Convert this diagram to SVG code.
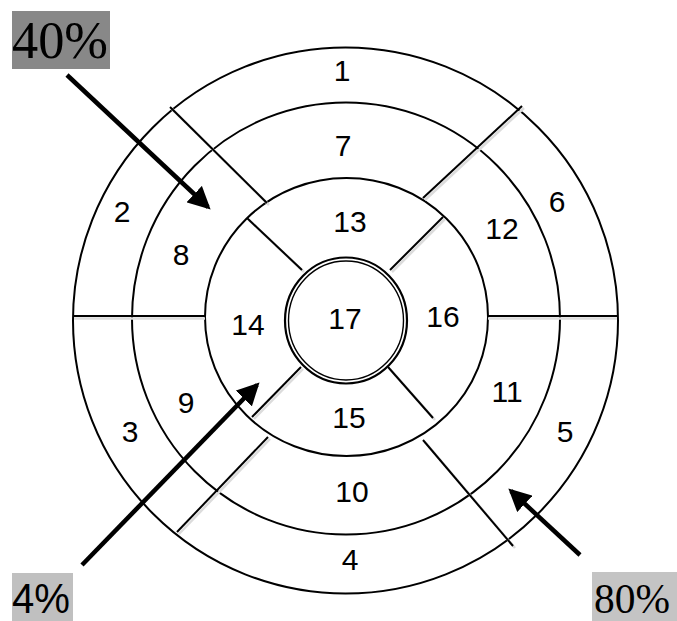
<svg xmlns="http://www.w3.org/2000/svg" width="677" height="621" viewBox="0 0 677 621">
<defs>
<style>
.ring{fill:none;stroke:#000;stroke-width:2}
.div{stroke:#000;stroke-width:2;stroke-linecap:butt}
.sh{stroke:#dcdcdc;stroke-width:2.5}
.num{font-family:"Liberation Sans",Arial,sans-serif;font-size:30px;text-anchor:middle;fill:#000}
.pct{font-family:"Liberation Serif","Times New Roman",serif;fill:#000}
.arr{stroke:#000;stroke-width:4.5;fill:none}
</style>
<marker id="ah" markerWidth="5" markerHeight="5" refX="4.2" refY="2.5" orient="auto" markerUnits="strokeWidth" viewBox="0 0 5 5">
<path d="M0,0 L5,2.5 L0,5 Z" fill="#000"/>
</marker>
</defs>
<rect width="677" height="621" fill="#fff"/>
<g id="rings">
<ellipse class="ring" cx="345.5" cy="320.5" rx="272.5" ry="273"/>
<ellipse class="ring" cx="346" cy="318.5" rx="214" ry="216"/>
<ellipse class="ring" cx="346.5" cy="317" rx="141.5" ry="139"/>
</g>
<g id="connectors">
<g class="sh">
<line x1="74" y1="318.5" x2="205" y2="318.5"/>
<line x1="488" y1="318.5" x2="617" y2="318.5"/>
<line x1="172" y1="109" x2="269" y2="205"/>
<line x1="249" y1="220" x2="304" y2="272"/>
<line x1="524" y1="108" x2="425" y2="200"/>
<line x1="445" y1="219" x2="392" y2="272"/>
<line x1="179" y1="534" x2="270" y2="439"/>
<line x1="254" y1="419" x2="303" y2="369"/>
<line x1="390" y1="369" x2="435" y2="420"/>
<line x1="425" y1="442" x2="515" y2="548"/>
</g>
<line class="div" x1="73" y1="316" x2="205" y2="316"/>
<line class="div" x1="488" y1="316" x2="618" y2="316"/>
<line class="div" x1="170" y1="107" x2="267" y2="203"/>
<line class="div" x1="247" y1="218" x2="302" y2="270"/>
<line class="div" x1="522" y1="106" x2="423" y2="198"/>
<line class="div" x1="443" y1="217" x2="390" y2="270"/>
<line class="div" x1="177" y1="532" x2="268" y2="437"/>
<line class="div" x1="252" y1="417" x2="301" y2="367"/>
<line class="div" x1="388" y1="367" x2="433" y2="418"/>
<line class="div" x1="423" y1="440" x2="513" y2="546"/>
</g>
<g id="seg17">
<ellipse cx="346" cy="320.5" rx="61" ry="63" fill="#fff" stroke="#000" stroke-width="2.2"/>
<ellipse cx="346" cy="320.5" rx="57.5" ry="59.5" fill="none" stroke="#000" stroke-width="1.4"/>
<text class="num" x="345" y="329">17</text>
</g>
<g id="labels">
<text class="num" x="342" y="81">1</text>
<text class="num" x="122" y="222">2</text>
<text class="num" x="130" y="442">3</text>
<text class="num" x="350" y="570">4</text>
<text class="num" x="565" y="442">5</text>
<text class="num" x="557" y="212">6</text>
<text class="num" x="343" y="156">7</text>
<text class="num" x="181" y="265">8</text>
<text class="num" x="186" y="413">9</text>
<text class="num" x="352" y="502">10</text>
<text class="num" x="507" y="402">11</text>
<text class="num" x="502" y="239">12</text>
<text class="num" x="350" y="232">13</text>
<text class="num" x="248" y="335">14</text>
<text class="num" x="349" y="428">15</text>
<text class="num" x="443" y="327">16</text>
</g>
<g id="arrows">
<line class="arr" x1="67" y1="75" x2="208" y2="207" marker-end="url(#ah)"/>
<line class="arr" x1="82" y1="565" x2="257" y2="385" marker-end="url(#ah)"/>
<line class="arr" x1="580" y1="555" x2="511" y2="491" marker-end="url(#ah)"/>
</g>
<g id="pct40">
<rect x="12" y="11" width="98" height="58" fill="#888"/>
<text class="pct" x="12" y="58" font-size="53" textLength="96" lengthAdjust="spacingAndGlyphs">40%</text>
</g>
<g id="pct4">
<rect x="12" y="573" width="61" height="48" fill="#c0c0c0"/>
<text x="12" y="613" font-family="Liberation Sans,Arial,sans-serif" font-size="42" textLength="58" lengthAdjust="spacingAndGlyphs">4%</text>
</g>
<g id="pct80">
<rect x="592" y="572" width="85" height="49" fill="#c4c4c4"/>
<text class="pct" x="594" y="613" font-size="42" textLength="76" lengthAdjust="spacingAndGlyphs">80%</text>
</g>
</svg>
